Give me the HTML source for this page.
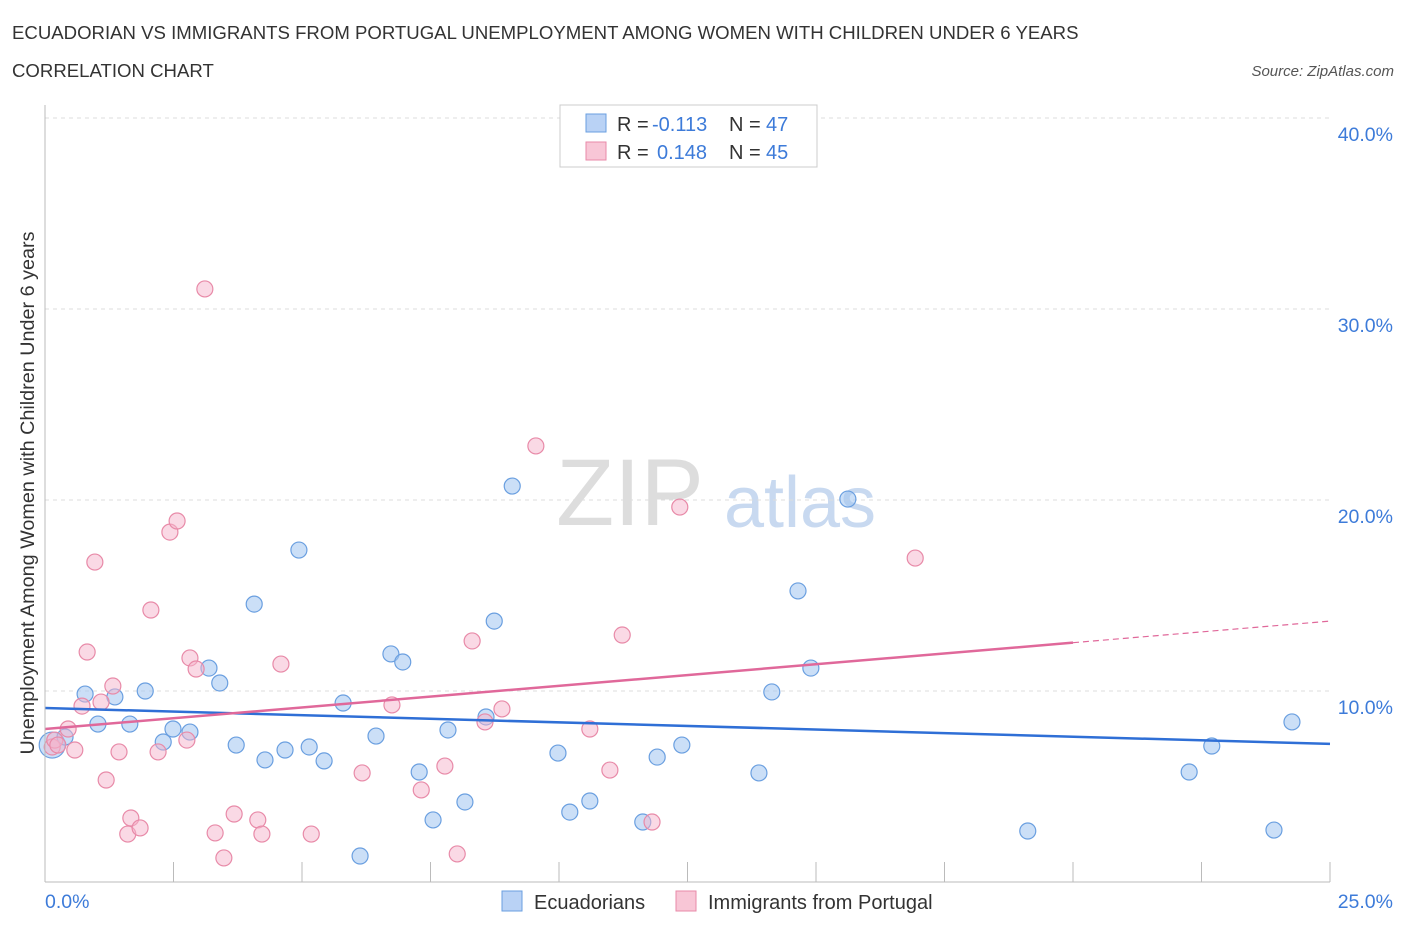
<!DOCTYPE html>
<html><head><meta charset="utf-8"><style>
body{margin:0;background:#fff;font-family:"Liberation Sans",sans-serif;}
svg text{font-family:"Liberation Sans",sans-serif;}
</style></head><body>
<svg width="1406" height="930" id="chart">
<text x="12" y="39" font-size="18.6" fill="#333">ECUADORIAN VS IMMIGRANTS FROM PORTUGAL UNEMPLOYMENT AMONG WOMEN WITH CHILDREN UNDER 6 YEARS</text>
<text x="12" y="77" font-size="18.6" fill="#333">CORRELATION CHART</text>
<text x="1394" y="76" font-size="15" fill="#555" font-style="italic" text-anchor="end">Source: ZipAtlas.com</text>
<text x="630" y="525" font-size="95" fill="#ddd" font-family="Liberation Serif" text-anchor="middle">ZIP</text>
<text x="800" y="527" font-size="72" fill="#c8d9f0" text-anchor="middle">atlas</text>
<text transform="translate(34,493) rotate(-90)" font-size="19.8" fill="#333" text-anchor="middle">Unemployment Among Women with Children Under 6 years</text>
<g id="grid"></g><g id="pts"></g><g id="lines"></g>
<line x1="45" y1="105" x2="45" y2="882" stroke="#bbb"/>
<line x1="45" y1="882" x2="1330" y2="882" stroke="#bbb"/>
<text x="45" y="908" font-size="19.5" fill="#3d7bd9">0.0%</text>
<text x="1393" y="908" font-size="19.5" fill="#3d7bd9" text-anchor="end">25.0%</text>
<g>
<rect x="560" y="105" width="257" height="62" fill="#fff" stroke="#ccc"/>
<rect x="586" y="114" width="20" height="18" fill="#b9d2f5" stroke="#6a9fe0"/>
<rect x="586" y="142" width="20" height="18" fill="#f8c6d6" stroke="#e88aa8"/>
<text x="617" y="131" font-size="20" fill="#333">R =</text>
<text x="652" y="131" font-size="20" fill="#3d7bd9">-0.113</text>
<text x="729" y="131" font-size="20" fill="#333">N =</text>
<text x="766" y="131" font-size="20" fill="#3d7bd9">47</text>
<text x="617" y="159" font-size="20" fill="#333">R =</text>
<text x="657" y="159" font-size="20" fill="#3d7bd9">0.148</text>
<text x="729" y="159" font-size="20" fill="#333">N =</text>
<text x="766" y="159" font-size="20" fill="#3d7bd9">45</text>
</g>
<g>
<rect x="502" y="891" width="20" height="20" fill="#b9d2f5" stroke="#6a9fe0"/>
<text x="534" y="909" font-size="20" fill="#333">Ecuadorians</text>
<rect x="676" y="891" width="20" height="20" fill="#f8c6d6" stroke="#e88aa8"/>
<text x="708" y="909" font-size="20" fill="#333">Immigrants from Portugal</text>
</g>
</svg>
<script>
const yTicks=[10,20,30,40];
const yTickLabels=["10.0%","20.0%","30.0%","40.0%"];
const xTicks=[0,2.5,5,7.5,10,12.5,15,17.5,20,22.5,25];
const blueX=[.14,.39,.78,1.03,1.36,1.65,1.95,2.30,2.49,2.82,3.19,3.40,3.72,4.07,4.28,4.67,4.94,5.14,5.43,5.80,6.13,6.44,6.73,6.96,7.28,7.55,7.84,8.17,8.58,8.74,9.09,9.98,10.21,10.60,11.63,11.91,12.39,13.89,14.14,14.65,14.90,15.62,19.12,22.26,22.70,23.91,24.26];
const blueY=[7.17,7.59,9.84,8.27,9.69,8.27,10.0,7.33,8.01,7.85,11.2,10.42,7.17,14.55,6.39,6.91,17.38,7.07,6.34,9.37,1.36,7.64,11.94,11.52,5.76,3.25,7.96,4.19,8.64,13.66,20.73,6.75,3.66,4.24,3.14,6.54,7.17,5.71,9.95,15.24,11.2,20.05,2.67,5.76,7.12,2.72,8.38];
const pinkX=[.14,.19,.25,.45,.58,.72,.82,.97,1.09,1.19,1.32,1.44,1.61,1.67,1.85,2.06,2.20,2.43,2.57,2.76,2.82,2.94,3.11,3.31,3.48,3.68,4.14,4.22,4.59,5.18,6.17,6.75,7.32,7.78,8.02,8.31,8.56,8.89,9.55,10.60,10.99,11.23,11.81,12.35,16.93];
const pinkY=[7.07,7.43,7.17,8.01,6.91,9.21,12.04,16.75,9.42,5.34,10.26,6.81,2.51,3.35,2.83,14.24,6.81,18.32,18.9,7.43,11.73,11.15,31.05,2.57,1.26,3.56,3.25,2.51,11.41,2.51,5.71,9.27,4.82,6.07,1.47,12.62,8.38,9.06,22.83,8.01,5.86,12.93,3.14,19.63,16.96];
const blueTrend=[9.11,7.23]; // y at x=0 and x=25
const pinkTrend=[8.01,13.66];
const pinkSolidEnd=20;
const X=v=>45+v*51.4, Y=v=>882-v*19.1;
const NS="http://www.w3.org/2000/svg";
function mk(t,a,p){const e=document.createElementNS(NS,t);for(const k in a)e.setAttribute(k,a[k]);p.appendChild(e);return e;}
const grid=document.getElementById('grid'),pts=document.getElementById('pts'),lines=document.getElementById('lines');
yTicks.forEach((v,i)=>{
 const l=mk('line',{x1:45,x2:1330,y1:Y(v),y2:Y(v),stroke:'#ddd','stroke-dasharray':'4,4'},grid);
 
 
 const t=mk('text',{x:1393,y:Y(v)+23,'font-size':19.5,fill:'#3d7bd9','text-anchor':'end'},grid);
 t.textContent=yTickLabels[i];
 
 
});
xTicks.forEach(v=>{
 const l=mk('line',{x1:X(v),x2:X(v),y1:862,y2:882,stroke:'#bbb'},grid);
 
 
});
blueX.forEach((x,i)=>{
 const c=mk('circle',{cx:X(x),cy:Y(blueY[i]),r:i==0?13:8,fill:'rgba(160,196,240,0.55)',stroke:'#6a9fe0','stroke-width':1.2},pts);
 
 
});
pinkX.forEach((x,i)=>{
 const c=mk('circle',{cx:X(x),cy:Y(pinkY[i]),r:8,fill:'rgba(245,180,204,0.5)',stroke:'#e88aa8','stroke-width':1.2},pts);
 
 
});
const bl=mk('line',{x1:X(0),y1:Y(blueTrend[0]),x2:X(25),y2:Y(blueTrend[1]),stroke:'#2f6fd6','stroke-width':2.5},lines);


const pm=pinkTrend[0]+(pinkTrend[1]-pinkTrend[0])*pinkSolidEnd/25;
const pl=mk('line',{x1:X(0),y1:Y(pinkTrend[0]),x2:X(pinkSolidEnd),y2:Y(pm),stroke:'#e0689a','stroke-width':2.5},lines);


const pd=mk('line',{x1:X(pinkSolidEnd),y1:Y(pm),x2:X(25),y2:Y(pinkTrend[1]),stroke:'#e0689a','stroke-width':1.2,'stroke-dasharray':'6,4'},lines);


</script>
</body></html>
